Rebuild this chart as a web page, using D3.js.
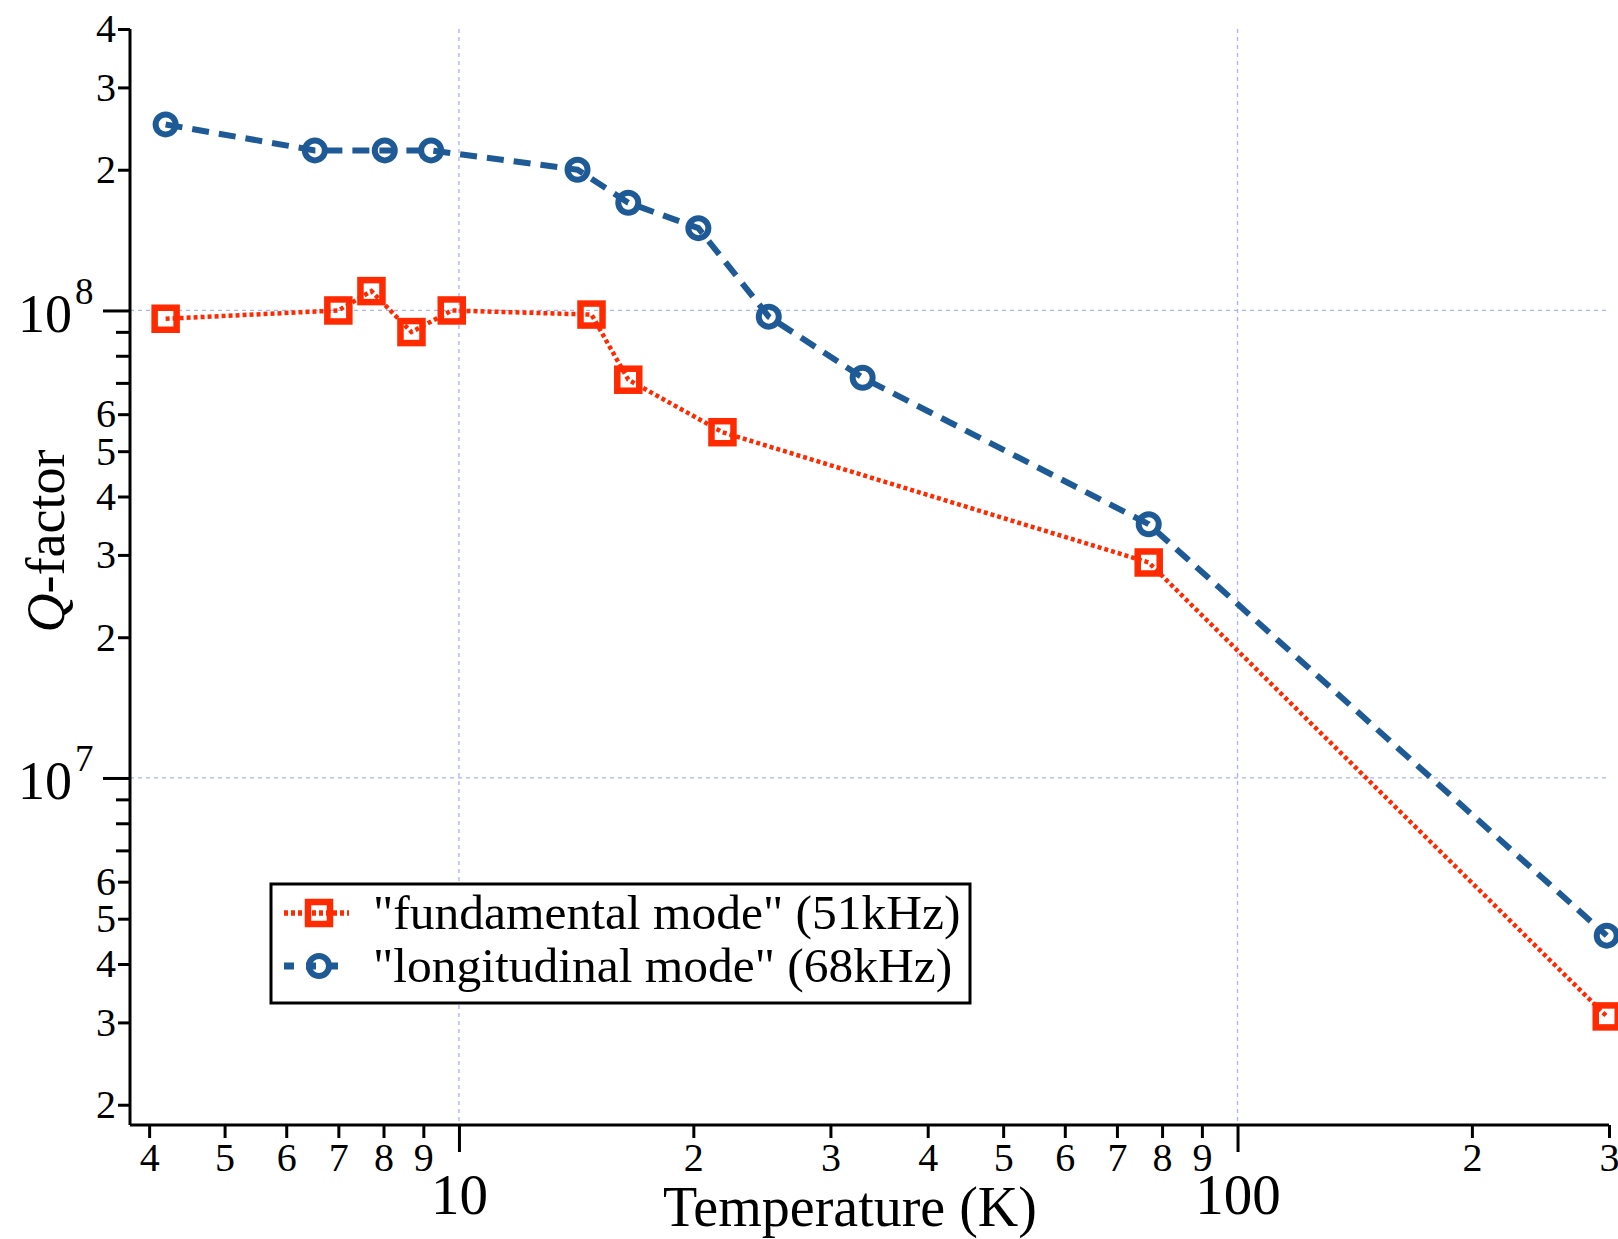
<!DOCTYPE html>
<html>
<head>
<meta charset="utf-8">
<script src="https://cdn.jsdelivr.net/npm/d3@7"></script>
<style>
  body { margin: 0; background: #fff; }
  svg { display: block; font-family: "Liberation Serif", "Times New Roman", serif; }
  .axis path, .axis line { stroke: #000; }
  .axis text { fill: #000; font-family: "Liberation Serif", serif; }
  .grid line { stroke: #a9b2f7; stroke-width: 1.3; stroke-dasharray: 4,4; }
</style>
</head>
<body>
<svg id="chart"></svg>
<script>
// temperatures (K) and Q-factors
const fundTemp = [4.2, 7.0, 7.72, 8.69, 9.79, 14.8, 16.5, 21.8, 76.9, 298];
const fundQ    = [9.6e7, 1.0e8, 1.10e8, 8.99e7, 1.0e8, 9.8e7, 7.11e7, 5.49e7, 2.89e7, 3.09e6];

const longTemp = [4.2, 6.53, 8.03, 9.21, 14.2, 16.5, 20.3, 25.0, 33.0, 76.9, 298];
const longQ    = [2.5e8, 2.2e8, 2.2e8, 2.2e8, 2.0e8, 1.70e8, 1.50e8, 0.97e8, 7.18e7, 3.49e7, 4.6e6];

const seriesNames = ['"fundamental mode" (51kHz)', '"longitudinal mode" (68kHz)'];

// ticks
const xMinorTicks = [4, 5, 6, 7, 8, 9, 20, 30, 40, 50, 60, 70, 80, 90, 200, 300];
const xMajorTicks = [10, 100];
const yLabeledTicks = [2e6, 3e6, 4e6, 5e6, 6e6, 2e7, 3e7, 4e7, 5e7, 6e7, 2e8, 3e8, 4e8];
const yPlainTicks = [7e6, 8e6, 9e6, 7e7, 8e7, 9e7];
const yMajorTicks = [1e7, 1e8];

const RED = '#ff2a00';
const BLUE = '#1e5b96';

const W = 1618, H = 1239;
const frame = {left: 130, right: 1609, top: 29, bottom: 1125};

const svg = d3.select('#chart').attr('width', W).attr('height', H);

const x = d3.scaleLog().domain([3.78, 300]).range([frame.left, frame.right]);
const y = d3.scaleLog().domain([1.81e6, 4e8]).range([frame.bottom, frame.top]);

const leadDigit = d => Math.round(d / Math.pow(10, Math.floor(Math.log10(d) + 1e-9)));

// gridlines
const grid = svg.append('g').attr('class', 'grid');
grid.selectAll('.vg').data(xMajorTicks).join('line')
    .attr('class', 'vg')
    .attr('x1', d => x(d)).attr('x2', d => x(d))
    .attr('y1', frame.top).attr('y2', frame.bottom);
grid.selectAll('.hg').data(yMajorTicks).join('line')
    .attr('class', 'hg')
    .attr('x1', frame.left).attr('x2', frame.right)
    .attr('y1', d => y(d)).attr('y2', d => y(d));

// x axis: minor ticks with small digits, majors with big labels
const xMinorAxis = d3.axisBottom(x).tickValues(xMinorTicks)
    .tickSize(13).tickPadding(5).tickSizeOuter(0).tickFormat(leadDigit);
const xMajorAxis = d3.axisBottom(x).tickValues(xMajorTicks)
    .tickSize(27).tickPadding(22).tickSizeOuter(0).tickFormat(d3.format('d'));

svg.append('g').attr('class', 'axis')
    .attr('transform', `translate(0,${frame.bottom})`)
    .call(xMinorAxis)
    .call(g => g.select('.domain').attr('d', `M${frame.left},0H${frame.right}`).attr('stroke-width', 3))
    .call(g => g.selectAll('.tick line').attr('stroke-width', 3))
    .call(g => g.selectAll('.tick text').attr('font-size', 40));

svg.append('g').attr('class', 'axis')
    .attr('transform', `translate(0,${frame.bottom})`)
    .call(xMajorAxis)
    .call(g => g.select('.domain').remove())
    .call(g => g.selectAll('.tick line').attr('stroke-width', 3))
    .call(g => g.selectAll('.tick text').attr('font-size', 57));

// y axis
const yLabeledAxis = d3.axisLeft(y).tickValues(yLabeledTicks)
    .tickSize(12).tickPadding(2).tickSizeOuter(0).tickFormat(leadDigit);
const yPlainAxis = d3.axisLeft(y).tickValues(yPlainTicks)
    .tickSize(14).tickSizeOuter(0).tickFormat('');
const yMajorAxis = d3.axisLeft(y).tickValues(yMajorTicks)
    .tickSize(27).tickSizeOuter(0).tickFormat('');

svg.append('g').attr('class', 'axis')
    .attr('transform', `translate(${frame.left},0)`)
    .call(yLabeledAxis)
    .call(g => g.select('.domain').attr('d', `M0,${frame.top}V${frame.bottom}`).attr('stroke-width', 3))
    .call(g => g.selectAll('.tick line').attr('stroke-width', 3))
    .call(g => g.selectAll('.tick text').attr('font-size', 40));

svg.append('g').attr('class', 'axis')
    .attr('transform', `translate(${frame.left},0)`)
    .call(yPlainAxis)
    .call(g => g.select('.domain').remove())
    .call(g => g.selectAll('.tick line').attr('stroke-width', 3));

const yMajorG = svg.append('g').attr('class', 'axis')
    .attr('transform', `translate(${frame.left},0)`)
    .call(yMajorAxis)
    .call(g => g.select('.domain').remove())
    .call(g => g.selectAll('.tick line').attr('stroke-width', 3));

yMajorG.selectAll('.tick').each(function(d) {
  const t = d3.select(this);
  t.select('text').remove();
  t.append('text').attr('x', 72 - frame.left).attr('y', 21)
      .attr('text-anchor', 'end').attr('font-size', 54).text('10');
  t.append('text').attr('x', 75 - frame.left).attr('y', -7)
      .attr('text-anchor', 'start').attr('font-size', 37).text(Math.round(Math.log10(d)));
});

// axis titles
svg.append('text')
    .attr('x', 850).attr('y', 1226)
    .attr('text-anchor', 'middle').attr('font-size', 56)
    .text('Temperature (K)');

const yTitle = svg.append('text')
    .attr('transform', 'translate(64,541) rotate(-90)')
    .attr('text-anchor', 'middle').attr('font-size', 54);
yTitle.append('tspan').attr('font-style', 'italic').text('Q');
yTitle.append('tspan').text('-factor');

// series
const line = d3.line().x(d => x(d[0])).y(d => y(d[1]));
const fundData = d3.zip(fundTemp, fundQ);
const longData = d3.zip(longTemp, longQ);

const styles = [
  {data: fundData, color: RED, width: 4.5, dash: '4,3', shape: 'square'},
  {data: longData, color: BLUE, width: 6, dash: '17,10', shape: 'circle'}
];

function drawMarker(g, shape, color, cx, cy) {
  if (shape === 'square') {
    g.append('rect').attr('x', cx - 11).attr('y', cy - 11)
        .attr('width', 22).attr('height', 22)
        .attr('fill', 'none').attr('stroke', color).attr('stroke-width', 6.5);
  } else {
    g.append('circle').attr('cx', cx).attr('cy', cy).attr('r', 10)
        .attr('fill', 'none').attr('stroke', color).attr('stroke-width', 6);
  }
}

styles.forEach(s => {
  svg.append('path').datum(s.data)
      .attr('d', line)
      .attr('fill', 'none')
      .attr('stroke', s.color)
      .attr('stroke-width', s.width)
      .attr('stroke-dasharray', s.dash);
  const mg = svg.append('g');
  s.data.forEach(d => drawMarker(mg, s.shape, s.color, x(d[0]), y(d[1])));
});

// legend
const legend = svg.append('g');
legend.append('rect')
    .attr('x', 271).attr('y', 884).attr('width', 699).attr('height', 119)
    .attr('fill', '#fff').attr('stroke', '#000').attr('stroke-width', 3);

const rowY = [913, 966];
styles.forEach((s, i) => {
  const ly = rowY[i];
  legend.append('line')
      .attr('x1', 284).attr('x2', 349).attr('y1', ly).attr('y2', ly)
      .attr('stroke', s.color).attr('stroke-width', s.width + 1)
      .attr('stroke-dasharray', s.shape === 'square' ? '4,3' : '10,12');
  drawMarker(legend, s.shape, s.color, 319, ly);
  legend.append('text')
      .attr('x', 373).attr('y', ly).attr('dy', '0.33em')
      .attr('font-size', 49.5)
      .text(seriesNames[i]);
});
</script>
</body>
</html>
